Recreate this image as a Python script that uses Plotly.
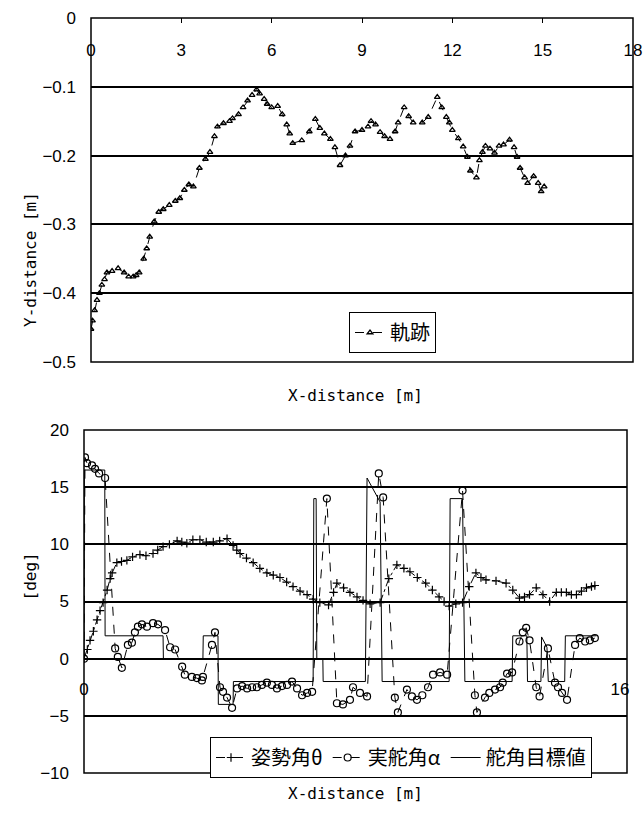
import plotly.graph_objects as go

# ---------------- top chart: trajectory ----------------
traj_x = [0.0, 0.05, 0.12, 0.2, 0.28, 0.36, 0.45, 0.53, 0.7, 0.9, 1.1, 1.25, 1.4, 1.5, 1.6, 1.75,
          1.85, 1.95, 2.1, 2.25, 2.4, 2.6, 2.8, 2.95, 3.1, 3.25, 3.4, 3.6, 3.8, 3.95, 4.1, 4.2,
          4.4, 4.6, 4.7, 4.9, 5.05, 5.2, 5.35, 5.5, 5.6, 5.75, 5.85, 6.0, 6.2, 6.35, 6.5, 6.6,
          6.7, 7.0, 7.25, 7.45, 7.6, 7.75, 7.95, 8.1, 8.27, 8.45, 8.6, 8.77, 9.0, 9.2, 9.3, 9.45,
          9.6, 9.75, 9.93, 10.1, 10.2, 10.4, 10.55, 10.7, 11.0, 11.2, 11.5, 11.65, 11.8, 11.9,
          12.0, 12.2, 12.36, 12.5, 12.6, 12.8, 12.9, 13.0, 13.1, 13.25, 13.4, 13.55, 13.7, 13.9,
          14.05, 14.15, 14.25, 14.4, 14.5, 14.7, 14.85, 14.95, 15.05]
traj_y = [-0.452, -0.44, -0.425, -0.41, -0.40, -0.388, -0.38, -0.37, -0.368, -0.364, -0.37, -0.376,
          -0.376, -0.374, -0.37, -0.35, -0.335, -0.318, -0.296, -0.282, -0.278, -0.272, -0.266,
          -0.262, -0.25, -0.242, -0.245, -0.218, -0.205, -0.195, -0.172, -0.158, -0.153, -0.15,
          -0.146, -0.14, -0.13, -0.12, -0.112, -0.104, -0.11, -0.118, -0.125, -0.13, -0.128, -0.14,
          -0.155, -0.168, -0.182, -0.178, -0.165, -0.147, -0.16, -0.168, -0.176, -0.188, -0.214,
          -0.2, -0.186, -0.165, -0.163, -0.158, -0.15, -0.155, -0.166, -0.172, -0.176, -0.165,
          -0.152, -0.13, -0.143, -0.152, -0.152, -0.144, -0.115, -0.13, -0.144, -0.152, -0.163,
          -0.175, -0.187, -0.202, -0.222, -0.232, -0.207, -0.195, -0.186, -0.19, -0.196, -0.186,
          -0.184, -0.177, -0.188, -0.202, -0.218, -0.232, -0.24, -0.23, -0.24, -0.252, -0.245]
top_xticks = [0, 3, 6, 9, 12, 15, 18]
top_yticks = [0, -0.1, -0.2, -0.3, -0.4, -0.5]
top_yticktext = ["0", "−0.1", "−0.2", "−0.3", "−0.4", "−0.5"]

# ---------------- bottom chart: angles ----------------
theta_x = [0.00, 0.10, 0.18, 0.28, 0.39, 0.48, 0.57, 0.69, 0.78, 0.84, 0.98, 1.12, 1.28, 1.45, 1.67,
           1.85, 2.06, 2.20, 2.36, 2.55, 2.78, 2.92, 3.07, 3.25, 3.46, 3.65, 3.86, 4.05, 4.27, 4.45,
           4.56, 4.66, 4.85, 5.05, 5.25, 5.46, 5.65, 5.85, 6.05, 6.24, 6.45, 6.66, 6.84, 7.04, 7.30,
           7.45, 7.55, 7.75, 7.94, 8.15, 8.33, 8.54, 8.84, 9.10, 9.34, 9.55, 9.73, 9.95, 10.20,
           10.40, 10.60, 10.75, 10.90, 11.10, 11.30, 11.50, 11.70, 11.85, 12.00, 12.30, 12.60,
           12.80, 13.00, 13.15, 13.30, 13.50, 13.70, 13.90, 14.10, 14.25, 14.40, 14.55, 14.70,
           14.85, 15.00, 15.15, 15.25]
theta_y = [0.0, 0.8, 1.6, 2.4, 3.4, 4.2, 4.9, 6.0, 7.0, 7.5, 8.4, 8.5, 8.6, 8.9, 9.1, 9.0, 9.2, 9.5,
           9.8, 10.0, 10.3, 10.2, 10.1, 10.4, 10.4, 10.2, 10.2, 10.3, 10.5, 9.9, 9.5, 9.2, 8.8, 8.4,
           7.9, 7.5, 7.3, 7.1, 6.7, 6.3, 5.9, 5.6, 5.2, 4.9, 4.7, 5.8, 6.6, 6.2, 5.8, 5.4, 5.1, 4.8,
           4.9, 7.0, 8.2, 7.9, 7.6, 7.1, 6.6, 6.0, 5.4, 5.0, 4.6, 4.8, 4.9, 6.3, 7.5, 7.1, 6.9, 6.8,
           6.6, 6.0, 5.3, 5.4, 5.6, 6.2, 5.6, 5.0, 5.8, 5.8, 5.8, 5.6, 5.6, 5.9, 6.2, 6.3, 6.4]

alpha_x = [0.00, 0.03, 0.09, 0.24, 0.33, 0.45, 0.63, 0.93, 1.01, 1.13, 1.31, 1.43, 1.52, 1.61, 1.73,
           1.88, 2.06, 2.21, 2.42, 2.57, 2.72, 2.93, 3.01, 3.22, 3.37, 3.52, 3.55, 3.82, 3.91, 4.06,
           4.15, 4.27, 4.42, 4.57, 4.72, 4.87, 5.02, 5.16, 5.31, 5.46, 5.61, 5.76, 5.91, 6.06, 6.21,
           6.36, 6.51, 6.66, 6.81, 7.25, 7.55, 7.73, 7.94, 8.03, 8.24, 8.45, 8.80, 8.93, 9.28, 9.37,
           9.64, 9.79, 9.94, 10.10, 10.27, 10.42, 10.63, 10.84, 11.30, 11.67, 11.73, 11.97, 12.10,
           12.27, 12.42, 12.50, 12.63, 12.78, 13.00, 13.10, 13.20, 13.30, 13.50, 13.60, 13.85,
           14.06, 14.15, 14.27, 14.42, 14.66, 14.80, 14.96, 15.10, 15.25]
alpha_y = [0.0, 17.6, 17.1, 16.9, 16.6, 16.2, 15.8, 0.9, 0.15, -0.8, 1.2, 1.4, 2.3, 2.8, 3.0, 2.8,
           3.1, 3.0, 2.5, 1.0, 0.8, -0.7, -1.4, -1.6, -1.7, -1.9, -1.6, 1.2, 2.3, -2.5, -2.9, -3.4,
           -4.3, -2.6, -2.4, -2.6, -2.5, -2.5, -2.3, -2.1, -2.3, -2.6, -2.4, -2.3, -2.0, -2.6, -3.2,
           -3.0, -2.9, 14.0, -3.9, -4.0, -3.6, -2.5, -3.0, -3.3, 16.2, 14.1, -3.4, -4.7, -2.7, -3.3,
           -3.6, -3.2, -2.5, -1.4, -1.2, -1.4, 14.7, -3.2, -4.7, -3.4, -3.0, -2.7, -2.5, -2.1, -1.3,
           -1.2, 1.5, 2.3, 2.7, 1.6, -2.5, -3.3, 0.9, -2.1, -2.5, -3.0, -3.6, 1.2, 1.8, 1.5, 1.6, 1.8]

tgt_x = [0, 0.01, 0.62, 0.63, 2.36, 2.37, 3.55, 3.56, 4.00, 4.01, 4.45, 4.46, 6.84, 6.86, 6.93,
         6.95, 7.13, 7.14, 8.40, 8.45, 8.84, 8.90, 10.90, 10.93, 11.30, 11.37, 12.78, 12.80, 13.22,
         13.24, 13.64, 13.66, 13.82, 13.86, 14.35, 14.37, 15.30]
tgt_y = [0, 16.5, 16.5, 2, 2, 0, 0, 2, 2, -4, -4, -2, -2, 14, 14, 0, 0, -2, -2, 15.8, 13.7, -2, -2,
         14, 14, -2, -2, 2, 2, -2, -2, 1.9, 1.0, -2, -2, 2, 2]

bot_xticks = [0, 16]
bot_yticks = [20, 15, 10, 5, 0, -5, -10]
bot_yticktext = ["20", "15", "10", "5", "0", "−5", "−10"]

W, H = 643, 820
TICKF = dict(family="Liberation Sans, Arial, sans-serif", size=17, color="black")
TITLEF = dict(family="DejaVu Sans Mono, monospace", size=16, color="black")
JPF = dict(family="Noto Sans CJK JP, sans-serif", size=20, color="black")

fig = go.Figure()
fig.add_trace(go.Scatter(
    x=traj_x, y=traj_y, mode="lines+markers", name="軌跡", xaxis="x", yaxis="y", legend="legend",
    line=dict(color="black", width=1, dash="dash"),
    marker=dict(symbol="triangle-up-open", size=5, color="black", line=dict(width=1.3, color="black"))))
fig.add_trace(go.Scatter(
    x=theta_x, y=theta_y, mode="lines+markers", name="姿勢角θ", xaxis="x2", yaxis="y2", legend="legend2",
    line=dict(color="black", width=1, dash="dashdot"),
    marker=dict(symbol="cross-thin-open", size=6, color="black", line=dict(width=1.2, color="black"))))
fig.add_trace(go.Scatter(
    x=alpha_x, y=alpha_y, mode="lines+markers", name="実舵角α", xaxis="x2", yaxis="y2", legend="legend2",
    line=dict(color="black", width=1, dash="dash"),
    marker=dict(symbol="circle-open", size=7, color="black", line=dict(width=1.2, color="black"))))
fig.add_trace(go.Scatter(
    x=tgt_x, y=tgt_y, mode="lines", name="舵角目標値", xaxis="x2", yaxis="y2", legend="legend2",
    line=dict(color="black", width=1)))

top_dom_y = [(H - 362) / H, (H - 18) / H]
bot_dom_y = [(H - 773) / H, (H - 430) / H]

fig.update_layout(
    width=W, height=H, margin=dict(l=0, r=0, t=0, b=0, autoexpand=False),
    paper_bgcolor="white", plot_bgcolor="white", showlegend=True,
    xaxis=dict(domain=[91 / W, 633 / W], range=[0, 18], side="top", anchor="y",
               tickvals=top_xticks, ticks="inside", ticklen=5, tickcolor="black",
               ticklabelposition="inside", ticklabelstandoff=22, ticklabeloverflow="allow",
               showgrid=False, zeroline=False, showline=False, tickfont=TICKF, automargin=False),
    yaxis=dict(domain=top_dom_y, range=[-0.5, 0], anchor="x", tickvals=top_yticks,
               ticktext=top_yticktext, showgrid=True, gridcolor="black", gridwidth=1.5,
               zeroline=False, showline=False, ticks="", ticklabelstandoff=14, tickfont=TICKF,
               automargin=False),
    xaxis2=dict(domain=[84 / W, 627 / W], range=[0, 16.21], anchor="free",
                position=(H - 661) / H, tickvals=bot_xticks, ticks="", showgrid=False,
                zeroline=False, showline=False, ticklabelstandoff=16, tickfont=TICKF,
                automargin=False),
    yaxis2=dict(domain=bot_dom_y, range=[-10, 20], anchor="x2", tickvals=bot_yticks,
                ticktext=bot_yticktext, showgrid=True, gridcolor="black", gridwidth=1.5,
                zeroline=False, showline=False, ticks="", ticklabelstandoff=14, tickfont=TICKF,
                automargin=False),
    legend=dict(x=349 / W, y=1 - 312 / H, xanchor="left", yanchor="top",
                bordercolor="black", borderwidth=1, bgcolor="white", font=JPF, itemwidth=30,
                tracegroupgap=0),
    legend2=dict(x=210 / W, y=1 - 737 / H, xanchor="left", yanchor="top", orientation="h",
                 bordercolor="black", borderwidth=1, bgcolor="white", font=JPF, itemwidth=30),
    shapes=[
        dict(type="rect", xref="x domain", yref="y domain", x0=0, x1=1, y0=0, y1=1,
             line=dict(color="black", width=1.5), layer="above"),
        dict(type="rect", xref="x2 domain", yref="y2 domain", x0=0, x1=1, y0=0, y1=1,
             line=dict(color="black", width=1.5), layer="above"),
    ],
    annotations=[
        dict(text="Y-distance [m]", xref="paper", yref="paper", x=19 / W, y=1 - 190 / H,
             textangle=-90, showarrow=False, font=TITLEF),
        dict(text="X-distance [m]", xref="paper", yref="paper", x=355 / W, y=1 - 395 / H,
             showarrow=False, font=TITLEF),
        dict(text="[deg]", xref="paper", yref="paper", x=18 / W, y=1 - 603 / H,
             textangle=-90, showarrow=False, font=TITLEF),
        dict(text="X-distance [m]", xref="paper", yref="paper", x=355 / W, y=1 - 805 / H,
             showarrow=False, font=TITLEF),
    ],
)

fig.write_html("out.html", config={"displayModeBar": False},
               post_script="document.body.style.margin='0';document.body.style.overflow='hidden';")
